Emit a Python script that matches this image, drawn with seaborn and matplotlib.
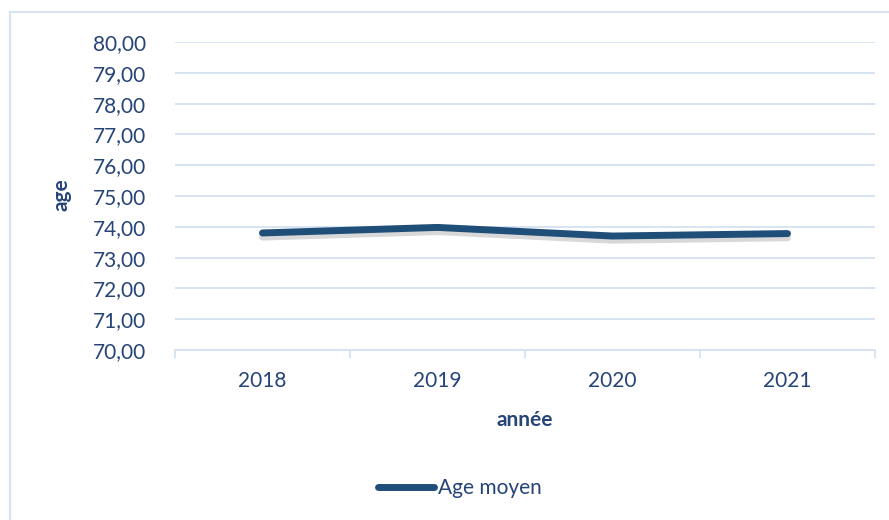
import matplotlib
matplotlib.use("Agg")
import matplotlib.pyplot as plt
import matplotlib.patheffects as pe
from matplotlib.ticker import FuncFormatter, FixedLocator
from matplotlib.lines import Line2D
import seaborn as sns
import pandas as pd

# data
years = ["2018", "2019", "2020", "2021"]
age_moyen = [73.80, 73.98, 73.70, 73.78]

df = pd.DataFrame({"annee": years, "age": age_moyen})

sns.set_theme(style="white")
plt.rcParams['font.family'] = ['Lato', 'DejaVu Sans']

text_col = "#264478"
line_col = "#1F4E79"
grid_col = "#D6E2F2"
fs = 15

fig = plt.figure(figsize=(8.89, 5.2), dpi=100)
ax = fig.add_axes([175 / 889, 1 - 350 / 520, 700 / 889, 308 / 520])

sns.lineplot(data=df, x="annee", y="age", ax=ax, color=line_col, linewidth=5,
             solid_capstyle="round", sort=False,
             path_effects=[pe.SimpleLineShadow(offset=(0, -3), shadow_color="#7f7f7f", alpha=0.3),
                           pe.Normal()])

ax.set_ylim(70, 80)
ax.set_xlim(-0.5, 3.5)
ax.set_yticks(range(70, 81))
ax.yaxis.set_major_formatter(FuncFormatter(lambda v, p: f"{v:.2f}".replace(".", ",")))
ax.grid(axis="y", color=grid_col, linewidth=1.3)
ax.set_axisbelow(True)

for s in ["top", "right", "left"]:
    ax.spines[s].set_visible(False)
ax.spines["bottom"].set_color(grid_col)
ax.spines["bottom"].set_linewidth(1.3)

ax.tick_params(axis="y", length=0, pad=21, labelsize=fs, labelcolor=text_col)
ax.tick_params(axis="x", which="major", length=0, pad=15, labelsize=fs, labelcolor=text_col)
ax.xaxis.set_minor_locator(FixedLocator([-0.5, 0.5, 1.5, 2.5, 3.5]))
ax.tick_params(axis="x", which="minor", length=6, width=1.3, color=grid_col, direction="out", bottom=True)

ax.set_xlabel("année", fontsize=fs, fontweight="bold", color=text_col, labelpad=14)
ax.set_ylabel("")
fig.text(62 / 889, 1 - 195 / 520, "age", rotation=90, ha="center", va="center",
         fontsize=fs, fontweight="bold", color=text_col)

handle = Line2D([0], [0], color=line_col, linewidth=5, solid_capstyle="round")
fig.legend([handle], ["Age moyen"], loc="center", bbox_to_anchor=(460 / 889, 1 - 488 / 520),
           frameon=False, fontsize=fs, labelcolor=text_col, handlelength=2.7, handletextpad=0.2)

# chart area border (only top and left visible in the crop)
fig.add_artist(Line2D([10 / 889, 10 / 889], [0, 1 - 12 / 520], transform=fig.transFigure,
                      color=grid_col, linewidth=1.5))
fig.add_artist(Line2D([10 / 889, 1], [1 - 12 / 520, 1 - 12 / 520], transform=fig.transFigure,
                      color=grid_col, linewidth=1.5))

fig.savefig("out.png", dpi=100, facecolor="white")
